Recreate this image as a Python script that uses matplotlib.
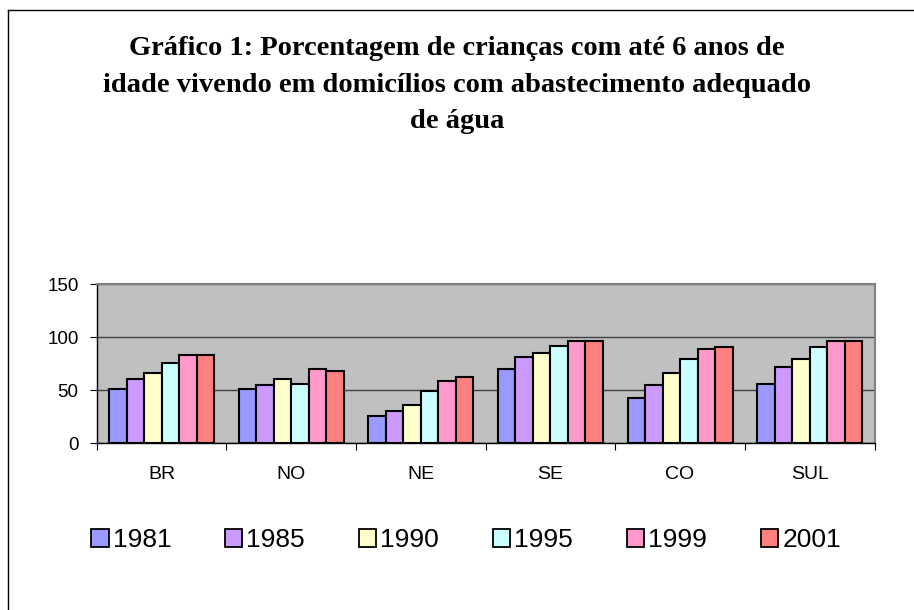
import numpy as np
import matplotlib.pyplot as plt
from matplotlib.lines import Line2D
from matplotlib.patches import Patch

# regions and years
regioes = ['BR', 'NO', 'NE', 'SE', 'CO', 'SUL']
anos = ['1981', '1985', '1990', '1995', '1999', '2001']
cores = ['#9999FF', '#CC99FF', '#FFFFCC', '#CCFFFF', '#FF99CC', '#FF8080']

# percent of children (values per year, one entry per region)
v1981 = [51, 51, 26, 70, 43, 56]
v1985 = [61, 55, 30, 81, 55, 72]
v1990 = [66, 61, 36, 85, 66, 79]
v1995 = [76, 56, 49, 92, 79, 91]
v1999 = [83, 70, 59, 96, 89, 96]
v2001 = [83, 68, 62, 96, 91, 96]
series = [v1981, v1985, v1990, v1995, v1999, v2001]

plt.rcParams['font.family'] = ['Liberation Sans', 'DejaVu Sans']

fig = plt.figure(figsize=(9.14, 6.10), dpi=100)
ax = fig.add_axes([0.1058, 0.2733, 0.851, 0.2611])
ax.set_facecolor('#C0C0C0')

x = np.arange(len(regioes))
w = 0.135
for i, (vals, c) in enumerate(zip(series, cores)):
    ax.bar(x + (i - 2.5) * w, vals, w, color=c, edgecolor='black',
           linewidth=1.5, zorder=3)

ax.set_xlim(-0.5, len(regioes) - 0.5)
ax.set_ylim(0, 150)
ax.set_yticks([0, 50, 100, 150])
ax.yaxis.grid(True, color='#404040', linewidth=1.0, zorder=0)
ax.set_axisbelow(True)

# category labels between the tick marks
ax.set_xticks(np.arange(len(regioes) + 1) - 0.5)
ax.set_xticklabels([])
ax.set_xticks(x, minor=True)
ax.set_xticklabels(regioes, minor=True)
ax.tick_params(axis='x', which='minor', length=0, pad=16, labelsize=14)
ax.tick_params(axis='x', which='major', length=5, color='black')
ax.tick_params(axis='y', length=5, labelsize=13.5, pad=8)

for s in ['top', 'right']:
    ax.spines[s].set_color('#808080')
    ax.spines[s].set_linewidth(1.5)
for s in ['left', 'bottom']:
    ax.spines[s].set_color('black')
    ax.spines[s].set_linewidth(1.0)

fig.text(0.5, 1 - 85 / 610,
         'Gráfico 1: Porcentagem de crianças com até 6 anos de\n'
         'idade vivendo em domicílios com abastecimento adequado\n'
         'de água',
         ha='center', va='center', fontsize=20.5, fontweight='bold',
         family=['Liberation Serif'], linespacing=1.6)

handles = [Patch(facecolor=c, edgecolor='black', linewidth=1.3) for c in cores]
fig.legend(handles, anos, loc='center', bbox_to_anchor=(0.51, 1 - 540 / 610),
           ncol=6, frameon=False, fontsize=19, handlelength=0.65,
           handleheight=0.65, handletextpad=0.15, columnspacing=2.05)

# outer chart border (only left and top are visible)
fig.add_artist(Line2D([8 / 914, 8 / 914], [0, 1 - 10 / 610], color='black', linewidth=1.0))
fig.add_artist(Line2D([8 / 914, 1], [1 - 10 / 610, 1 - 10 / 610], color='black', linewidth=1.0))

fig.savefig('out.png', dpi=100)
